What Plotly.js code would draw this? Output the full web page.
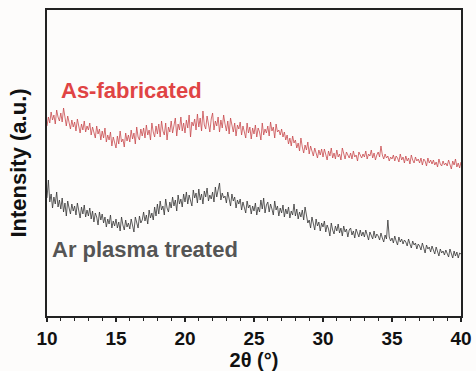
<!DOCTYPE html>
<html>
<head>
<meta charset="utf-8">
<script src="https://cdn.plot.ly/plotly-3.0.1.min.js"></script>
<style>html,body{margin:0;padding:0;background:#fdfcfb;}#chart{width:476px;height:371px;}</style>
</head>
<body>
<div id="chart"></div>
<script>
// 2θ grid from 10.0 to 40.0 in 0.1° steps
const twoTheta = Array.from({length: 301}, (_, i) => +(10 + i * 0.1).toFixed(1));

// As-fabricated intensity (a.u.)
const asFabricated = [
190,199,193,204,196,201,192,206,199,195,
203,194,208,197,190,200,193,187,196,189,
194,185,197,189,183,192,186,195,184,190,
186,193,181,189,184,178,190,182,187,176,
185,178,188,174,181,176,184,170,179,173,
168,180,172,185,174,177,169,183,175,181,
174,186,177,183,172,189,179,176,187,180,
188,178,191,181,186,176,193,184,179,190,
182,192,179,195,185,181,193,176,189,184,
195,183,191,198,180,192,186,199,185,193,
183,196,188,201,179,194,190,197,186,202,
189,198,185,205,191,187,200,193,184,197,
203,186,195,190,199,184,196,188,201,192,
185,195,182,198,189,184,193,180,191,187,
194,181,190,185,178,193,183,189,177,188,
182,191,179,188,184,176,193,181,187,183,
190,180,194,185,189,178,192,184,186,181,
187,179,184,176,181,172,178,170,180,173,
176,168,173,165,178,169,163,171,166,174,
162,170,165,160,168,163,158,166,161,167,
159,167,161,156,165,160,168,158,163,157,
166,159,162,156,168,161,157,164,160,158,
163,157,165,159,161,155,164,160,158,162,
159,165,157,162,160,166,158,163,156,161,
164,159,170,161,157,162,158,160,155,159,
157,161,155,160,158,154,162,156,159,153,
160,155,158,152,161,156,153,159,155,157,
153,158,151,157,155,150,158,153,156,152,
156,151,154,149,157,152,150,155,151,153,
150,156,152,147,155,151,157,149,153,148,
154];

// Ar plasma treated intensity (a.u.)
const arPlasma = [
118,136,114,122,108,119,112,124,109,116,
107,118,104,113,100,115,108,102,112,105,
110,101,113,104,98,109,102,111,99,106,
100,108,97,105,94,103,99,91,104,96,
102,93,99,89,97,92,101,88,95,90,
97,88,94,85,99,91,86,96,89,93,
87,97,90,84,99,92,88,100,93,96,
104,95,101,92,106,98,103,96,109,100,
112,102,115,106,110,101,117,108,104,114,
108,119,110,116,105,121,112,117,109,122,
114,124,112,121,116,110,126,118,123,113,
127,116,122,112,125,119,128,115,121,117,
124,114,129,119,126,133,116,123,118,120,
113,124,117,110,122,115,119,108,116,112,
117,106,114,109,103,115,108,111,102,110,
105,113,101,109,104,116,107,118,103,111,
114,104,112,107,101,115,106,110,100,108,
103,111,99,107,102,109,98,105,101,112,
100,107,97,104,99,106,96,109,101,93,
96,88,99,92,86,97,90,94,85,93,
89,95,84,91,87,80,93,86,82,90,
85,92,83,88,80,90,84,87,79,86,
88,81,85,78,87,83,79,86,80,84,
79,86,82,76,84,80,77,85,78,82,
80,76,83,78,74,81,77,96,79,75,
78,73,80,75,71,79,74,77,72,76,
74,70,77,72,68,75,71,73,67,72,
70,66,73,68,63,71,67,69,64,70,
66,62,69,64,60,67,63,65,61,66,
63,59,67,61,58,65,60,64,58,63,
62];

const seriesNames = ['As-fabricated', 'Ar plasma treated'];
const xTickVals = [10, 15, 20, 25, 30, 35, 40];
const FONT = 'Liberation Sans, Arial, sans-serif';

const traces = [
  {x: twoTheta, y: asFabricated, mode: 'lines', name: seriesNames[0],
   line: {color: '#c8494c', width: 0.8}},
  {x: twoTheta, y: arPlasma, mode: 'lines', name: seriesNames[1],
   line: {color: '#333333', width: 0.8}}
];

const layout = {
  width: 476, height: 371,
  margin: {l: 47, r: 15, t: 10, b: 55},
  paper_bgcolor: '#fdfcfb', plot_bgcolor: '#fdfcfb',
  showlegend: false,
  font: {family: FONT, color: '#111'},
  xaxis: {
    range: [10, 40], tickvals: xTickVals, ticktext: xTickVals.map(String),
    ticks: 'outside', ticklen: 4, tickwidth: 1.5, tickcolor: '#222',
    minor: {dtick: 1, ticks: 'outside', ticklen: 3, tickwidth: 1.2, tickcolor: '#222'},
    showline: true, linecolor: '#222', linewidth: 2, mirror: true,
    showgrid: false, zeroline: false,
    tickfont: {size: 19, family: FONT, weight: 'bold', color: '#111'},
    title: {text: '2θ (°)', standoff: 0,
            font: {size: 20, family: FONT, weight: 'bold', color: '#111'}}
  },
  yaxis: {
    range: [0, 306], showticklabels: false, ticks: '',
    showline: true, linecolor: '#222', linewidth: 2, mirror: true,
    showgrid: false, zeroline: false,
    title: {text: 'Intensity (a.u.)', standoff: 12,
            font: {size: 22, family: FONT, weight: 'bold', color: '#111'}}
  },
  annotations: [
    {xref: 'paper', yref: 'paper', x: 0.03, y: 0.738, xanchor: 'left', yanchor: 'middle',
     text: seriesNames[0], showarrow: false,
     font: {size: 22, family: FONT, weight: 'bold', color: '#e04444'}},
    {xref: 'paper', yref: 'paper', x: 0.008, y: 0.216, xanchor: 'left', yanchor: 'middle',
     text: seriesNames[1], showarrow: false,
     font: {size: 22, family: FONT, weight: 'bold', color: '#555555'}}
  ]
};

Plotly.newPlot('chart', traces, layout, {displayModeBar: false, staticPlot: true});
</script>
</body>
</html>
